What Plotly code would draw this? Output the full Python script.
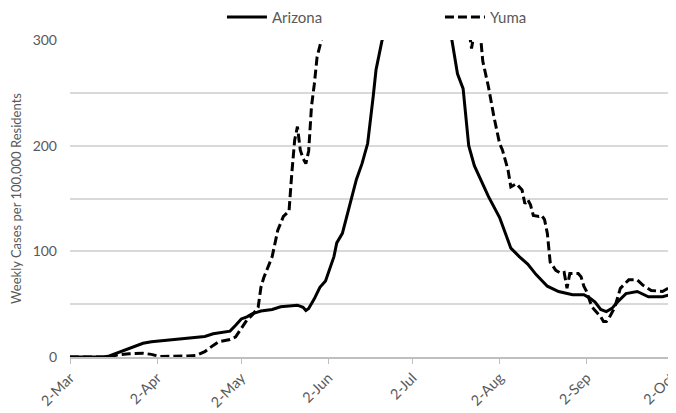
import plotly.graph_objects as go

# ---- Data ----
az_dates = ["2020-03-02", "2020-03-14", "2020-03-16", "2020-03-19", "2020-03-22", "2020-03-25",
            "2020-03-28", "2020-03-31", "2020-04-04", "2020-04-09", "2020-04-15", "2020-04-19",
            "2020-04-22", "2020-04-25", "2020-04-28", "2020-04-30", "2020-05-02", "2020-05-04",
            "2020-05-06", "2020-05-09", "2020-05-13", "2020-05-16", "2020-05-19", "2020-05-22",
            "2020-05-24", "2020-05-25", "2020-05-26", "2020-05-28", "2020-05-30", "2020-06-01",
            "2020-06-04", "2020-06-05", "2020-06-07", "2020-06-10", "2020-06-12", "2020-06-14",
            "2020-06-16", "2020-06-18", "2020-06-19", "2020-06-21", "2020-06-24", "2020-06-29",
            "2020-07-03", "2020-07-08", "2020-07-13", "2020-07-16", "2020-07-17", "2020-07-18",
            "2020-07-20", "2020-07-21", "2020-07-22", "2020-07-24", "2020-07-26", "2020-07-29",
            "2020-08-02", "2020-08-04", "2020-08-06", "2020-08-09", "2020-08-12", "2020-08-15",
            "2020-08-17", "2020-08-19", "2020-08-23", "2020-08-28", "2020-09-01", "2020-09-03",
            "2020-09-05", "2020-09-07", "2020-09-09", "2020-09-11", "2020-09-13", "2020-09-16",
            "2020-09-20", "2020-09-24", "2020-09-29", "2020-10-03"]
az_values = [0, 0, 1, 4, 6.5, 10,
             13, 14.5, 15.5, 17, 18.5, 19.5,
             22, 23.5, 24.5, 30, 36, 38,
             41, 43.5, 45, 47.5, 48.5, 49,
             47, 44, 46, 55, 66, 72,
             95, 108, 117, 146, 168, 183,
             202, 247, 272, 298, 330, 365,
             380, 365, 330, 300, 283, 268,
             254, 227, 200, 181, 170, 152,
             132, 117, 103, 95, 88, 78,
             72, 67, 62, 59, 59, 56,
             52, 45, 43, 46, 52, 60,
             62, 57, 57, 60]

yuma_dates = ["2020-03-02", "2020-03-16", "2020-03-19", "2020-03-23", "2020-03-28", "2020-03-31",
              "2020-04-03", "2020-04-09", "2020-04-13", "2020-04-16", "2020-04-19", "2020-04-22",
              "2020-04-24", "2020-04-28", "2020-04-30", "2020-05-02", "2020-05-04", "2020-05-06",
              "2020-05-08", "2020-05-09", "2020-05-10", "2020-05-13", "2020-05-15", "2020-05-17",
              "2020-05-19", "2020-05-20", "2020-05-21", "2020-05-22", "2020-05-23", "2020-05-24",
              "2020-05-25", "2020-05-26", "2020-05-27", "2020-05-28", "2020-05-29", "2020-05-31",
              "2020-06-05", "2020-06-15", "2020-06-25", "2020-07-05", "2020-07-14", "2020-07-21",
              "2020-07-23", "2020-07-24", "2020-07-26", "2020-07-27", "2020-07-29", "2020-07-31",
              "2020-08-02", "2020-08-03", "2020-08-05", "2020-08-06", "2020-08-08", "2020-08-10",
              "2020-08-11", "2020-08-12", "2020-08-13", "2020-08-14", "2020-08-16", "2020-08-17",
              "2020-08-18", "2020-08-19", "2020-08-20", "2020-08-22", "2020-08-24", "2020-08-25",
              "2020-08-26", "2020-08-27", "2020-08-30", "2020-08-31", "2020-09-01", "2020-09-02",
              "2020-09-03", "2020-09-04", "2020-09-05", "2020-09-07", "2020-09-08", "2020-09-09",
              "2020-09-10", "2020-09-12", "2020-09-14", "2020-09-17", "2020-09-20", "2020-09-22",
              "2020-09-25", "2020-09-29", "2020-10-01", "2020-10-03"]
yuma_values = [0, 0, 2, 3, 3.5, 2.5,
               0.5, 0.5, 1, 1.5, 5, 11,
               14.5, 16.5, 19, 27, 35, 40,
               47, 66, 75, 95, 120, 133,
               138, 174, 205, 218, 196, 188,
               183, 195, 237, 258, 284, 305,
               420, 650, 800, 760, 520, 330,
               292, 308, 310, 280, 256, 227,
               202, 196, 177, 161, 164, 158,
               145, 149, 144, 134, 133, 134,
               130, 117, 90, 82, 79, 80,
               65, 79, 79, 76, 67, 62,
               54, 47, 44, 38, 33.5, 33.5,
               37, 47, 65, 73, 73, 68,
               63, 62, 65, 68]

tick_dates = ["2020-03-02", "2020-04-02", "2020-05-02", "2020-06-02",
              "2020-07-02", "2020-08-02", "2020-09-02", "2020-10-02"]
tick_labels = ["2-Mar", "2-Apr", "2-May", "2-Jun", "2-Jul", "2-Aug", "2-Sep", "2-Oct"]
y_ticks = [0, 100, 200, 300]

FONT = "Lato, 'Open Sans', sans-serif"
GRAY = "#595959"

fig = go.Figure()
fig.add_trace(go.Scatter(x=az_dates, y=az_values, mode="lines", name="Arizona",
                         line=dict(color="black", width=3)))
fig.add_trace(go.Scatter(x=yuma_dates, y=yuma_values, mode="lines", name="Yuma",
                         line=dict(color="black", width=3, dash="9px,4px")))

# the page body has an 8px default margin, so the figure is sized to fit the 676x413 window
fig.update_layout(
    width=668, height=405,
    margin=dict(l=62, r=3, t=32, b=56, autoexpand=False),
    paper_bgcolor="white", plot_bgcolor="white",
    font=dict(family=FONT, color=GRAY, size=13),
    showlegend=True,
    legend=dict(orientation="h", x=0.252, xanchor="left", y=1.072, yanchor="middle",
                font=dict(size=15, color=GRAY), entrywidth=163, entrywidthmode="pixels",
                itemwidth=40, bgcolor="rgba(0,0,0,0)"),
    xaxis=dict(
        type="date", automargin=False,
        range=["2020-03-02", "2020-10-02 18:00"],
        tickmode="array", tickvals=tick_dates, ticktext=tick_labels,
        tickangle=-45, ticks="outside", ticklen=5, tickcolor="#bfbfbf", tickwidth=1,
        showgrid=False, showline=True, linecolor="#bfbfbf", linewidth=1.5,
        tickfont=dict(size=14.5, color=GRAY), zeroline=False, ticklabeloverflow="allow",
    ),
    yaxis=dict(
        range=[0, 300], tickmode="array", tickvals=y_ticks, automargin=False,
        showgrid=True, gridcolor="#d9d9d9", gridwidth=1.5,
        minor=dict(dtick=50, showgrid=True, gridcolor="#d9d9d9", gridwidth=1.5),
        zeroline=False, showline=False, ticks="",
        tickfont=dict(size=14, color=GRAY), ticklabelstandoff=12,
        title=dict(text="Weekly Cases per 100,000 Residents", font=dict(size=13, color=GRAY),
                   standoff=8),
    ),
)

fig.write_html("out.html")
